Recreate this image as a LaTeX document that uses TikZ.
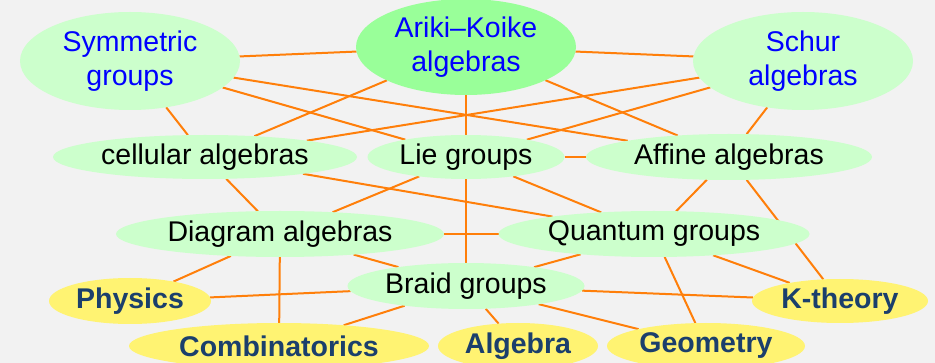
\documentclass[tikz,border=0pt]{standalone}
\usepackage{fontspec}
\setmainfont{Liberation Sans}
\usetikzlibrary{shapes.geometric,backgrounds}

\definecolor{paper}{HTML}{F2F2F2}
\definecolor{paleGreen}{HTML}{CCFFCC}
\definecolor{richGreen}{HTML}{99FF99}
\definecolor{sunYellow}{HTML}{FFF372}
\definecolor{inkBlue}{HTML}{1B3F6C}
\definecolor{linkOrange}{HTML}{FF7F0A}

\newcommand{\labelsize}{\fontsize{28.5}{34}\selectfont}

\tikzset{
  topic/.style={ellipse, inner sep=0pt, outer sep=0pt, font=\labelsize},
  soft/.style={topic, fill=paleGreen, text=black},
  headline/.style={topic, fill=paleGreen, text=blue, align=center},
  field/.style={topic, fill=sunYellow, text=inkBlue, font=\bfseries\labelsize},
  link/.style={draw=linkOrange, line width=2pt},
}

\begin{document}
\begin{tikzpicture}[x=1pt, y=-1pt]
  \useasboundingbox (0,0) rectangle (935,363);
  \clip (0,0) rectangle (935,363);

  % top row
  \node[headline, minimum width=220pt, minimum height=98pt] (sym) at (130,61) {Symmetric\\groups};
  \node[headline, fill=richGreen, minimum width=220pt, minimum height=96pt] (ak) at (466,47) {Ariki--Koike\\algebras};
  \node[headline, minimum width=220pt, minimum height=98pt] (schur) at (803,61) {Schur\\algebras};

  % second row
  \node[soft, minimum width=304pt, minimum height=44pt] (cell) at (205,157) {cellular algebras};
  \node[soft, minimum width=197pt, minimum height=44pt] (lie) at (466,157) {Lie groups};
  \node[soft, minimum width=286pt, minimum height=46pt] (aff) at (729,157) {Affine algebras};

  % third row
  \node[soft, minimum width=328pt, minimum height=46pt] (diag) at (280,234) {Diagram algebras};
  \node[soft, minimum width=311pt, minimum height=46pt] (qg) at (654,234) {Quantum groups};

  % braid groups
  \node[soft, minimum width=237pt, minimum height=46pt] (braid) at (466,286) {Braid groups};

  % application fields
  \node[field, minimum width=162pt, minimum height=46pt] (phys) at (130,301) {Physics};
  \node[field, minimum width=176pt, minimum height=44pt] (kth) at (840,301) {K-theory};
  \node[field, minimum width=300pt, minimum height=46pt] (comb) at (279,346) {Combinatorics};
  \node[field, minimum width=160pt, minimum height=46pt] (alg) at (518,346) {Algebra};
  \node[field, minimum width=198pt, minimum height=46pt] (geom) at (706,346) {Geometry};

  \begin{scope}[on background layer]
    \fill[paper] (0,0) rectangle (935,363);

    \draw[link] (sym) -- (ak);
    \draw[link] (sym) -- (aff);
    \draw[link] (sym) -- (lie);
    \draw[link] (sym) -- (cell);
    \draw[link] (ak) -- (cell);
    \draw[link] (ak) -- (lie);
    \draw[link] (ak) -- (aff);
    \draw[link] (schur) -- (ak);
    \draw[link] (schur) -- (cell);
    \draw[link] (schur) -- (lie);
    \draw[link] (schur) -- (aff);
    \draw[link] (lie) -- (aff);

    \draw[link] (cell) -- (diag);
    \draw[link] (lie) -- (diag);
    \draw[link] (cell) -- (qg);
    \draw[link] (aff) -- (qg);
    \draw[link] (lie) -- (qg);
    \draw[link] (aff) -- (kth);
    \draw[link] (lie) -- (braid);

    \draw[link] (diag) -- (qg);
    \draw[link] (diag) -- (phys);
    \draw[link] (diag) -- (comb);
    \draw[link] (diag) -- (braid);
    \draw[link] (qg) -- (braid);
    \draw[link] (qg) -- (geom);
    \draw[link] (qg) -- (kth);

    \draw[link] (phys) -- (braid);
    \draw[link] (braid) -- (comb);
    \draw[link] (braid) -- (kth);
    \draw[link] (braid) -- (alg);
    \draw[link] (braid) -- (geom);
  \end{scope}
\end{tikzpicture}
\end{document}
